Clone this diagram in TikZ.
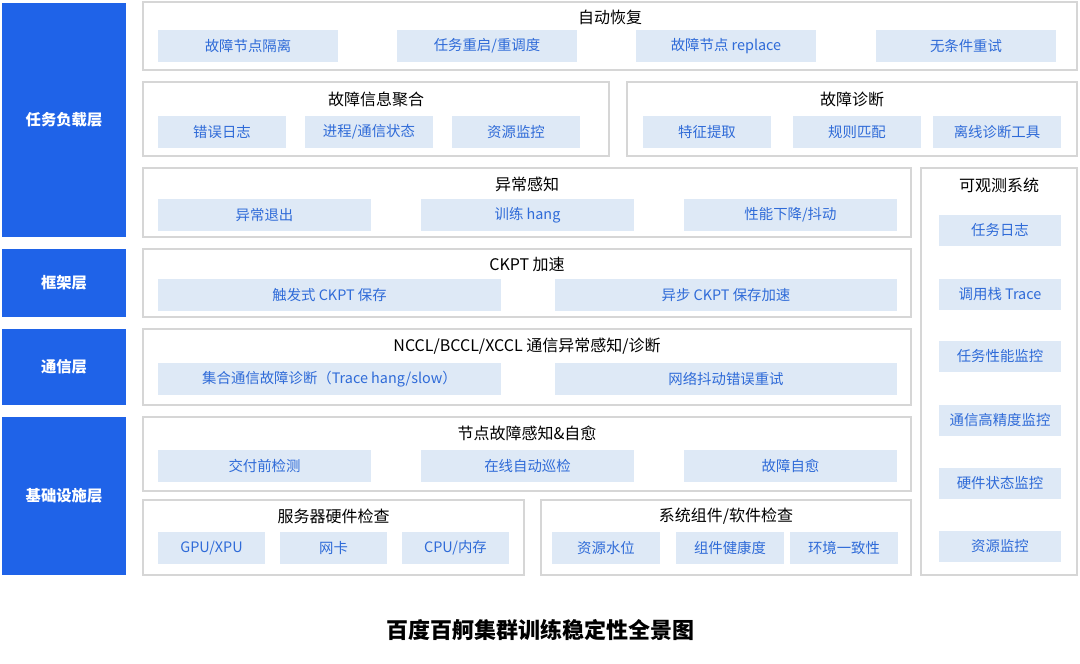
\documentclass[tikz,border=0pt]{standalone}
\usepackage{fontspec}
\setmainfont{Noto Sans CJK SC}
\definecolor{lb}{HTML}{1F63E8}
\definecolor{sb}{HTML}{DEE9F6}
\definecolor{st}{HTML}{2F6BD8}
\definecolor{gb}{HTML}{D6D6D6}
\begin{document}
\begin{tikzpicture}[x=0.75pt,y=-0.75pt,
  layer/.style={fill=lb,text=white,font=\fontsize{11.5}{13}\selectfont\bfseries},
  outer/.style={draw=gb,line width=1.2pt,fill=white},
  sub/.style={fill=sb,text=st,font=\fontsize{10.8}{12}\selectfont},
  ttl/.style={text=black,font=\fontsize{12}{14}\selectfont}]
\useasboundingbox (0,0) rectangle (1080,663);
\newcommand{\mylay}[5]{\fill[lb] (#1,#2) rectangle (#3,#4); \node[layer] at ({(#1+#3)/2},{(#2+#4)/2}) {#5};}
\newcommand{\myobox}[7]{\draw[outer] (#1,#2) rectangle (#3,#4); \node[ttl] (#7) at ({(#1+#3)/2},#5) {#6};}
\newcommand{\mysub}[6]{\fill[sb] (#1,#2) rectangle (#3,#4); \node[sub] (#6) at ({(#1+#3)/2},{(#2+#4)/2}) {#5};}
\mylay{2}{3}{126}{237}{任务负载层}
\mylay{2}{249}{126}{317}{框架层}
\mylay{2}{329}{126}{405}{通信层}
\mylay{2}{417}{126}{575}{基础设施层}
\myobox{143}{2}{1077}{70}{17}{自动恢复}{t1}
\mysub{158}{30}{338}{62}{故障节点隔离}{a1}
\mysub{397}{30}{577}{62}{任务重启/重调度}{a2}
\mysub{636}{30}{816}{62}{故障节点 replace}{a3}
\mysub{876}{30}{1056}{62}{无条件重试}{a4}
\myobox{143}{82}{609}{156}{99}{故障信息聚合}{t2}
\mysub{158}{116}{286}{148}{错误日志}{b1}
\mysub{305}{116}{433}{148}{进程/通信状态}{b2}
\mysub{452}{116}{580}{148}{资源监控}{b3}
\myobox{627}{82}{1077}{156}{99}{故障诊断}{t3}
\mysub{643}{116}{771}{148}{特征提取}{c1}
\mysub{793}{116}{921}{148}{规则匹配}{c2}
\mysub{933}{116}{1061}{148}{离线诊断工具}{c3}
\myobox{143}{168}{911}{237}{184}{异常感知}{t4}
\mysub{158}{199}{371}{231}{异常退出}{d1}
\mysub{421}{199}{634}{231}{训练 hang}{d2}
\mysub{684}{199}{897}{231}{性能下降/抖动}{d3}
\myobox{921}{168}{1077}{575}{185}{可观测系统}{t5}
\mysub{939}{215}{1061}{246}{任务日志}{e1}
\mysub{939}{279}{1061}{310}{调用栈 Trace}{e2}
\mysub{939}{341}{1061}{372}{任务性能监控}{e3}
\mysub{939}{405}{1061}{436}{通信高精度监控}{e4}
\mysub{939}{468}{1061}{499}{硬件状态监控}{e5}
\mysub{939}{531}{1061}{562}{资源监控}{e6}
\myobox{143}{249}{911}{317}{264}{CKPT 加速}{t6}
\mysub{158}{279}{501}{311}{触发式 CKPT 保存}{f1}
\mysub{555}{279}{897}{311}{异步 CKPT 保存加速}{f2}
\myobox{143}{329}{911}{405}{346}{NCCL/BCCL/XCCL 通信异常感知/诊断}{t7}
\mysub{158}{363}{501}{395}{集合通信故障诊断（Trace hang/slow）}{g1}
\mysub{555}{363}{897}{395}{网络抖动错误重试}{g2}
\myobox{143}{417}{911}{491}{433}{节点故障感知\&自愈}{t8}
\mysub{158}{450}{371}{482}{交付前检测}{h1}
\mysub{421}{450}{634}{482}{在线自动巡检}{h2}
\mysub{684}{450}{897}{482}{故障自愈}{h3}
\myobox{143}{500}{524}{575}{516}{服务器硬件检查}{t9}
\mysub{158}{532}{265}{564}{GPU/XPU}{i1}
\mysub{280}{532}{387}{564}{网卡}{i2}
\mysub{402}{532}{509}{564}{CPU/内存}{i3}
\myobox{541}{500}{911}{575}{516}{系统组件/软件检查}{t10}
\mysub{552}{532}{660}{564}{资源水位}{j1}
\mysub{676}{532}{784}{564}{组件健康度}{j2}
\mysub{790}{532}{898}{564}{环境一致性}{j3}
\node[font=\fontsize{16.5}{19}\selectfont\bfseries] (cap) at (540,630) {百度百舸集群训练稳定性全景图};
\end{tikzpicture}
\end{document}
